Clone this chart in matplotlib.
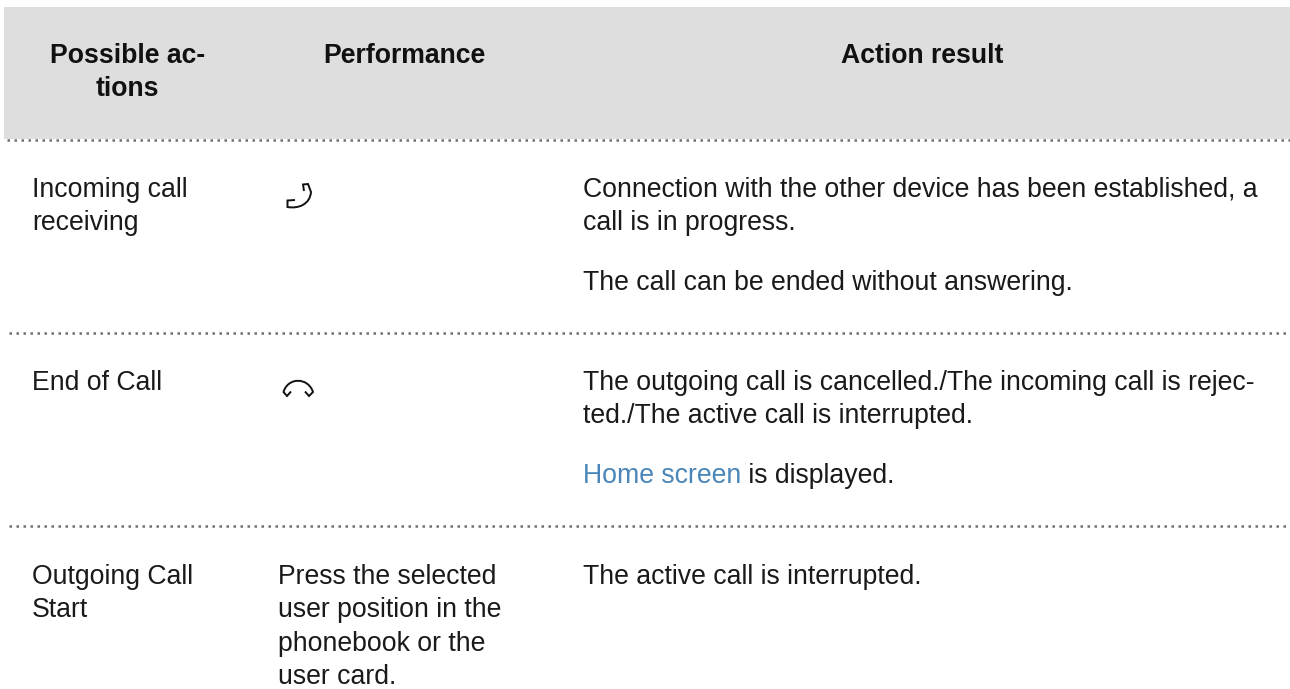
import matplotlib
matplotlib.use('Agg')
import matplotlib.pyplot as plt
from matplotlib.patches import PathPatch, Rectangle
from matplotlib.path import Path

plt.rcParams['font.family'] = ['Liberation Sans', 'DejaVu Sans']

headers = ['Possible ac-\ntions', 'Performance', 'Action result']
actions = [['Incoming call', 'receiving'], ['End of Call'], ['Outgoing Call', 'Start']]
performance = ['Press the selected', 'user position in the', 'phonebook or the', 'user card.']
results_first = ['Connection with the other device has been established, a', 'call is in progress.']
results_second = ['The call can be ended without answering.']
results_third = ['The outgoing call is cancelled./The incoming call is rejec-', 'ted./The active call is interrupted.']
results_last = ['The active call is interrupted.']
link_text = 'Home screen'
link_rest = ' is displayed.'

FS = 19.2
LINE = 33.3
TEXT = '#1a1a1a'

fig = plt.figure(figsize=(12.9, 6.89), dpi=100)
ax = fig.add_axes([0, 0, 1, 1])
ax.set_xlim(0, 1290)
ax.set_ylim(689, 0)
ax.axis('off')


def block(x, y, lines, color=TEXT):
    for i, line in enumerate(lines):
        ax.text(x, y + i * LINE, line, fontsize=FS, color=color, va='baseline', ha='left')


# header band
ax.add_patch(Rectangle((4, 7), 1286, 132, facecolor='#dedede', edgecolor='none'))
ax.text(127.5, 63, headers[0].split('\n')[0], fontsize=FS, fontweight='bold', color='#111111', ha='center')
ax.text(127.5, 96.5, headers[0].split('\n')[1], fontsize=FS, fontweight='bold', color='#111111', ha='center')
ax.text(404, 63, headers[1], fontsize=FS, fontweight='bold', color='#111111', ha='center')
ax.text(922, 63, headers[2], fontsize=FS, fontweight='bold', color='#111111', ha='center')

# dotted separators
for y, x0 in [(139.5, 7), (332.5, 9), (525.5, 9)]:
    ax.plot([x0, 1295], [y, y], color='#707070', lw=1.8, dashes=(1.0, 1.8), solid_capstyle='butt')

# first column
block(32, 197, actions[0])
block(32, 390, actions[1])
block(32, 584, actions[2])

# second column
block(278.5, 584, performance)

# third column
block(583, 197, results_first)
block(583, 290, results_second)
block(583, 390, results_third)
link = ax.text(583, 483, link_text, fontsize=FS, color='#4a86b8')
fig.canvas.draw()
end = link.get_window_extent().x1
ax.text(end, 483, link_rest, fontsize=FS, color=TEXT)
block(583, 584, results_last)

# accept call icon
accept = Path([(295, 200), (287.5, 200.5), (287.5, 207), (299, 209), (310, 204), (311, 192),
               (308, 184), (303, 184.5), (304, 191)],
              [Path.MOVETO, Path.LINETO, Path.LINETO, Path.CURVE4, Path.CURVE4, Path.CURVE4,
               Path.LINETO, Path.LINETO, Path.LINETO])
ax.add_patch(PathPatch(accept, facecolor='none', edgecolor='#111111', lw=1.4))

# end call icon
hangup = Path([(291, 391.5), (287, 396), (283.5, 392), (288, 377), (308, 377), (313, 392),
               (309, 396), (305, 391.5)],
              [Path.MOVETO, Path.LINETO, Path.LINETO, Path.CURVE4, Path.CURVE4, Path.CURVE4,
               Path.LINETO, Path.LINETO])
ax.add_patch(PathPatch(hangup, facecolor='none', edgecolor='#111111', lw=1.4))

fig.savefig('out.png', dpi=100)
